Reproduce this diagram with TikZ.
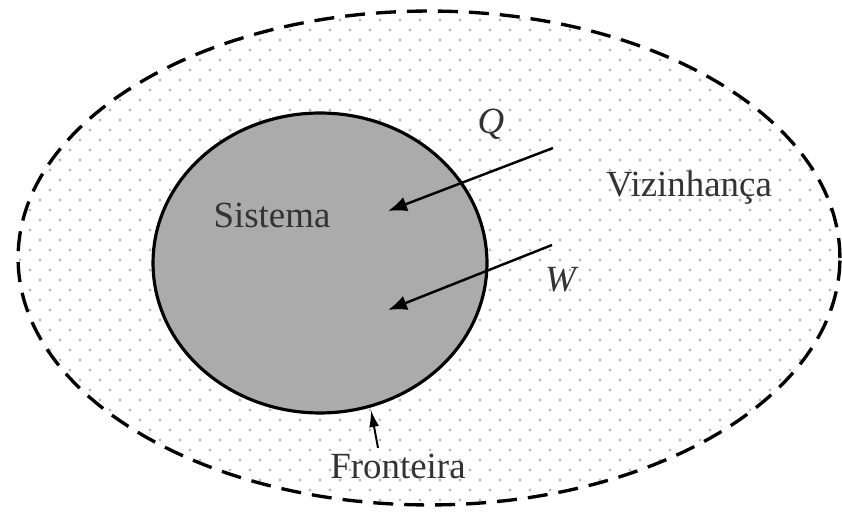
\documentclass[tikz,border=0pt]{standalone}
\usepackage{fontspec}
\setmainfont{Liberation Serif}
\usetikzlibrary{arrows.meta,shapes.geometric,positioning}

\definecolor{dotgray}{gray}{0.72}
\definecolor{sysgray}{gray}{0.67}
\definecolor{inkgray}{gray}{0.2}

\tikzset{
    txt/.style={font=\fontsize{21}{25}\selectfont, text=inkgray, inner sep=0pt},
    flux/.style={line width=1.4pt, -{Latex[length=0.38cm,width=0.3cm]}},
}

\begin{document}
\begin{tikzpicture}[x=0.02cm,y=-0.02cm]
    \useasboundingbox (0,0) rectangle (842,516);

    % Stippled surroundings
    \begin{scope}
        \clip (429,258) ellipse [x radius=411, y radius=247];
        \foreach \r in {0,...,52} {
            \pgfmathsetmacro{\off}{mod(\r,2)*10}
            \foreach \c in {0,...,42} {
                \fill[dotgray] (\c*20+\off,\r*10) circle [radius=1.6];
            }
        }
    \end{scope}
    \node[ellipse,draw,dashed,line width=1.9pt,dash pattern=on 0.4cm off 0.22cm,
          minimum width=16.44cm,minimum height=9.88cm,inner sep=0pt] (env) at (429,258) {};

    % System
    \node[ellipse,draw,fill=sysgray,line width=1.8pt,
          minimum width=6.68cm,minimum height=6cm,inner sep=0pt] (sys) at (320,263) {};

    % Labels
    \node[txt] (sistema) at (272,215) {Sistema};
    \node[txt] (viz) at (689,188) {Vizinhança};
    \node[txt] (fr) at (398,466) {Fronteira};
    \node[txt] (q) at (491,124) {\textit{Q}};
    \node[txt] (w) at (562,280) {\textit{W}};

    % Heat and work
    \coordinate (qtail) at (553,148);
    \coordinate (qtip) at (388,211);
    \coordinate (wtail) at (552,245);
    \coordinate (wtip) at (388,310);
    \coordinate (frtail) at (378,448);
    \coordinate (frtip) at (371,410);
    \draw[flux] (qtail) -- (qtip);
    \draw[flux] (wtail) -- (wtip);
    \draw[line width=1.1pt,-{Latex[length=0.34cm,width=0.2cm]}] (frtail) -- (frtip);
\end{tikzpicture}
\end{document}
